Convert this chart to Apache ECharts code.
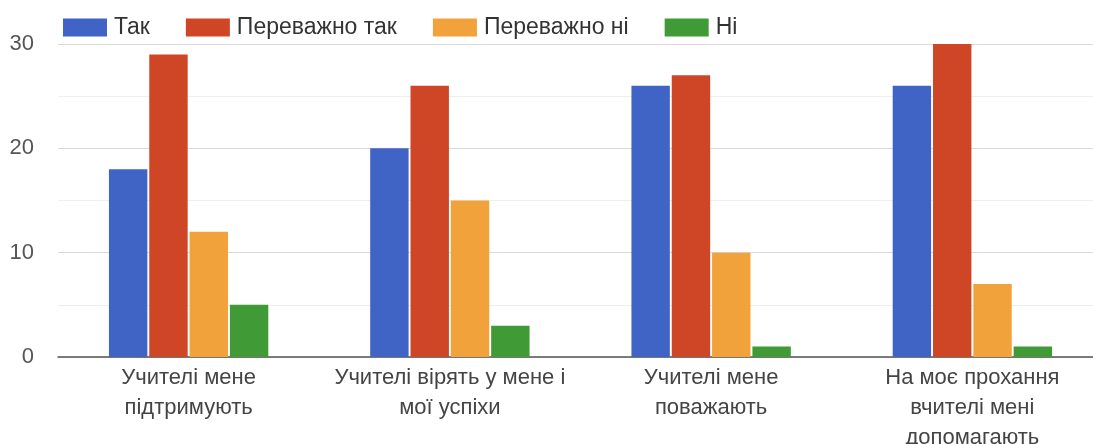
<!DOCTYPE html>
<html><head><meta charset="utf-8">
<script src="https://cdn.jsdelivr.net/npm/echarts@6/dist/echarts.min.js"></script>
<style>html,body{margin:0;padding:0;background:#fff}#c{width:1093px;height:444px}</style>
</head><body><div id="c"></div>
<script>
const categories = ["Учителі мене підтримують","Учителі вірять у мене і мої успіхи","Учителі мене поважають","На моє прохання вчителі мені допомагають"];
const tickLabels = ["Учителі мене\nпідтримують","Учителі вірять у мене і\nмої успіхи","Учителі мене\nповажають","На моє прохання\nвчителі мені\nдопомагають"];
const seriesNames = ["Так","Переважно так","Переважно ні","Ні"];
const tak = [18, 20, 26, 26];
const perevazhnoTak = [29, 26, 27, 30];
const perevazhnoNi = [12, 15, 10, 7];
const ni = [5, 3, 1, 1];
const colors = ["#4064c6","#cf4626","#f2a23b","#409a36"];
const values = [tak, perevazhnoTak, perevazhnoNi, ni];

const chart = echarts.init(document.getElementById('c'));
chart.setOption({
  animation:false,
  color: colors,
  textStyle:{fontFamily:'Liberation Sans, Arial, sans-serif'},
  legend:{left:58, top:11, itemWidth:44, itemHeight:18, itemGap:36,
    textStyle:{fontSize:23, color:'#333', padding:[0,0,0,2]}, icon:'rect'},
  grid:{left:58, top:44, right:-10, bottom:87, outerBoundsMode:'none', containLabel:false},
  xAxis:{type:'category', data:categories,
    axisLine:{lineStyle:{color:'#555', width:1.5}},
    axisTick:{show:false},
    axisLabel:{formatter:(v, i)=>tickLabels[i], fontSize:22, color:'#444', lineHeight:30, margin:6, interval:0}},
  yAxis:{type:'value', min:0, max:30, interval:10,
    axisLabel:{fontSize:22, color:'#555', margin:24, verticalAlign:'middle', lineHeight:22, padding:[6,0,0,0]},
    splitLine:{lineStyle:{color:'#d9d9d9'}},
    minorTick:{show:false, splitNumber:2},
    minorSplitLine:{show:true, lineStyle:{color:'#eeeeee'}}},
  series: seriesNames.map((n, k)=>({name:n, type:'bar', data:values[k], barGap:'5%', barCategoryGap:'39%'}))
});
</script></body></html>
